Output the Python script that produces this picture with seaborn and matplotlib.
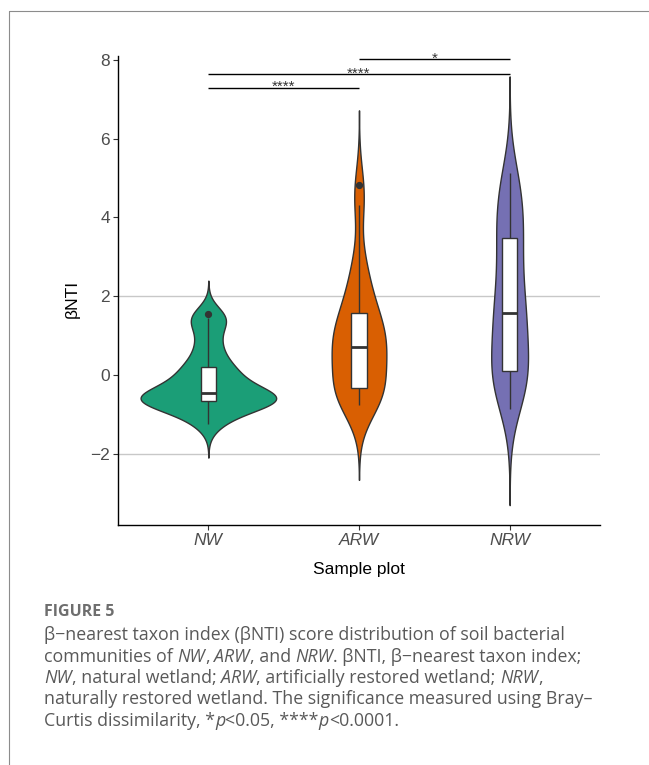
import numpy as np
import pandas as pd
import matplotlib
matplotlib.use("Agg")
import matplotlib.pyplot as plt
from matplotlib.lines import Line2D
import seaborn as sns

# ---------------------------------------------------------------- data
sites = ["NW", "ARW", "NRW"]
site_palette = ["#1B9E77", "#D95F02", "#7570B3"]

bnti_nw = [-1.25, -1.05, -0.90, -0.78, -0.70, -0.67, -0.65, -0.63, -0.61,
           -0.59, -0.56, -0.51, -0.45, -0.36, -0.25, -0.12, -0.02, 0.10,
           0.20, 0.40, 0.65, 0.95, 1.30, 1.45, 1.55]
bnti_arw = [-0.76, -0.66, -0.57, -0.50, -0.44, -0.39, -0.34, 0.00, 0.25,
            0.42, 0.55, 0.65, 0.72, 0.86, 1.00, 1.14, 1.29, 1.43, 1.57,
            1.85, 2.15, 2.50, 2.95, 4.31, 4.82]
bnti_nrw = [-0.85, -0.50, -0.25, -0.10, 0.00, 0.06, 0.10, 0.45, 0.80,
            1.10, 1.30, 1.45, 1.57, 1.85, 2.15, 2.45, 2.80, 3.15, 3.49,
            3.70, 3.95, 4.25, 4.55, 4.85, 5.13]

pairs = [("NW", "ARW"), ("NW", "NRW"), ("ARW", "NRW")]
pair_labels = ["****", "****", "*"]

y_ticks = [-2, 0, 2, 4, 6, 8]
guide_levels = [-2, 2]

df = pd.DataFrame({
    "site": np.repeat(sites, [len(bnti_nw), len(bnti_arw), len(bnti_nrw)]),
    "bnti": np.concatenate([bnti_nw, bnti_arw, bnti_nrw]),
})


def nrd0(kde):
    """Silverman's rule of thumb (R's bw.nrd0) as a gaussian_kde factor."""
    x = np.asarray(kde.dataset).ravel()
    sd = x.std(ddof=1)
    q1, q3 = np.percentile(x, [25, 75])
    h = 0.9 * min(sd, (q3 - q1) / 1.34) * x.size ** -0.2
    return h / sd


# ---------------------------------------------------------------- style
sns.set_theme(style="ticks")
plt.rcParams["font.family"] = ["Liberation Sans", "DejaVu Sans"]

W, H = 649, 765
fig = plt.figure(figsize=(W / 100, H / 100), dpi=100)
fig.patch.set_facecolor("white")

ax = fig.add_axes([118 / W, 1 - 525 / H, (600 - 118) / W, (525 - 56) / H])

for lvl in guide_levels:
    ax.axhline(lvl, color="#c8c8c8", lw=1.0, zorder=0)

sns.violinplot(
    data=df, x="site", y="bnti", hue="site", order=sites, hue_order=sites,
    palette=site_palette, saturation=1, width=0.9, cut=3, gridsize=512,
    bw_method=nrd0, bw_adjust=0.94, density_norm="area", common_norm=True,
    inner=None, linecolor="#333333", linewidth=1.0, dodge=False,
    legend=False, ax=ax,
)
sns.boxplot(
    data=df, x="site", y="bnti", order=sites, width=0.1, color="white",
    saturation=1, linecolor="#333333", linewidth=1.0, whis=1.5,
    showcaps=False,
    medianprops=dict(linewidth=2.0, color="#333333"),
    flierprops=dict(marker="o", markersize=4.2, markerfacecolor="#333333",
                    markeredgecolor="#333333"),
    ax=ax,
)

ax.set_xlim(-0.6, 2.6)
ax.set_ylim(-3.807, 8.10)
ax.set_yticks(y_ticks)
sns.despine(ax=ax)
for side in ("left", "bottom"):
    ax.spines[side].set_color("black")
    ax.spines[side].set_linewidth(1.0)
ax.tick_params(axis="both", length=3.6, width=0.8, color="#333333",
               labelcolor="#4D4D4D", labelsize=12.5, pad=2.2)
for lab in ax.get_xticklabels():
    lab.set_fontstyle("italic")

ax.set_xlabel("Sample plot", fontsize=12.5, color="black")
ax.set_ylabel("βNTI", fontsize=12.5, color="black")
ax.xaxis.set_label_coords(0.5, (525 - 562) / 469)
ax.xaxis.label.set_verticalalignment("top")
ax.yaxis.set_label_coords((80 - 118) / 482, (525 - 299) / 469)

# significance brackets
pos = {s: i for i, s in enumerate(sites)}
bracket_y = [7.30, 7.64, 8.02]
for (a, b), lab, yv in zip(pairs, pair_labels, bracket_y):
    x1, x2 = pos[a], pos[b]
    ax.plot([x1, x2], [yv, yv], color="black", lw=1.0, clip_on=False,
            solid_capstyle="butt")
    ax.text((x1 + x2) / 2, yv - 0.085, lab, ha="center", va="baseline",
            fontsize=11, color="#333333", clip_on=False)

# outer frame
fig.add_artist(Line2D([9 / W, 9 / W], [0, 1 - 11 / H], color="#8c8c8c",
                      lw=0.8))
fig.add_artist(Line2D([9 / W, 1], [1 - 11 / H, 1 - 11 / H], color="#8c8c8c",
                      lw=0.8))

# ---------------------------------------------------------------- caption
CAP_FONT = ["Open Sans", "DejaVu Sans"]
CAP_SIZE = 12.8
renderer = fig.canvas.get_renderer()


def text_width(s, size, style="normal", weight="normal"):
    t = fig.text(0, 0, s, fontsize=size, style=style, weight=weight,
                 family=CAP_FONT)
    w = t.get_window_extent(renderer).width
    t.remove()
    return w


def rich_line(x_px, base_px, parts, size, color):
    space = text_width("x x", size) - text_width("xx", size)
    x = x_px
    for s, style in parts:
        lead = len(s) - len(s.lstrip(" "))
        trail = len(s) - len(s.rstrip(" "))
        core = s.strip(" ")
        x += lead * space
        if core:
            t = fig.text(x / W, 1 - base_px / H, core, fontsize=size,
                         style=style, family=CAP_FONT, color=color,
                         ha="left", va="baseline")
            x += t.get_window_extent(renderer).width
        x += trail * space


fig.text(44 / W, 1 - 611.5 / H, "FIGURE 5", fontsize=11.5, weight="bold",
         family=CAP_FONT, color="#6e6e6e", ha="left", va="center")

n, i = "normal", "italic"
caption = [
    [("β−nearest taxon index (βNTI) score distribution of soil bacterial", n)],
    [("communities of ", n), ("NW", i), (", ", n), ("ARW", i),
     (", and ", n), ("NRW", i), (". βNTI, β−nearest taxon index;", n)],
    [("NW", i), (", natural wetland; ", n), ("ARW", i),
     (", artificially restored wetland; ", n), ("NRW", i), (",", n)],
    [("naturally restored wetland. The significance measured using Bray–", n)],
    [("Curtis dissimilarity, *", n), ("p", i), ("<0.05, ****", n), ("p", i),
     ("<0.0001.", n)],
]
for k, parts in enumerate(caption):
    rich_line(44, 640 + 21.5 * k, parts, CAP_SIZE, "#595959")

fig.savefig("out.png", dpi=100)
